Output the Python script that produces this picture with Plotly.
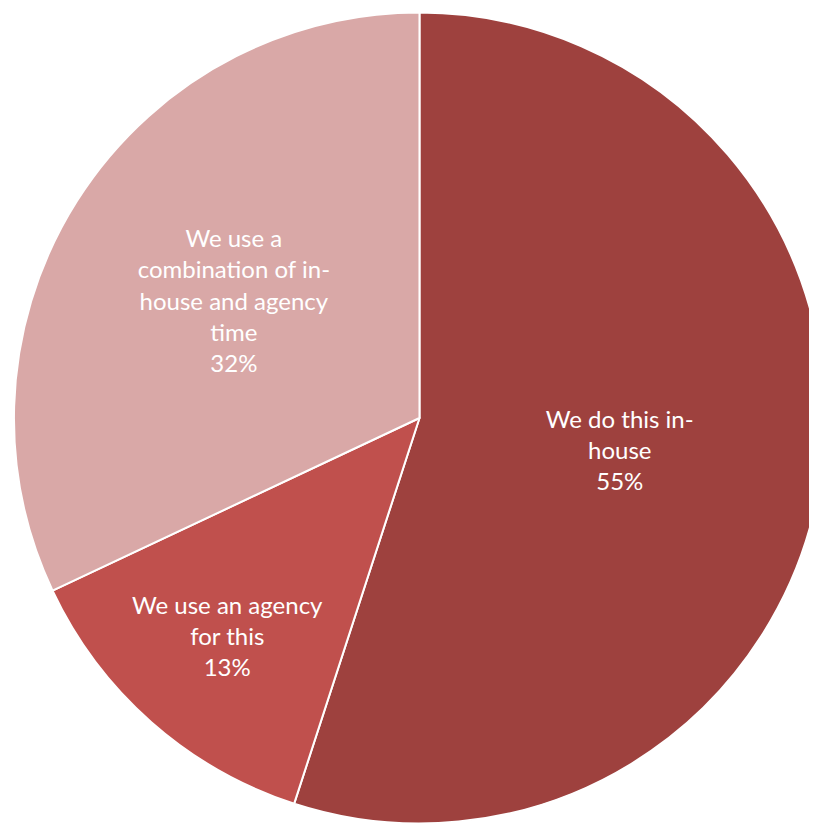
import plotly.graph_objects as go

labels = ["We do this in-house", "We use an agency for this",
          "We use a combination of in-house and agency time"]
label_text = ["We do this in-<br>house", "We use an agency<br>for this",
              "We use a<br>combination of in-<br>house and agency<br>time"]
values = [55, 13, 32]
colors = ["#9E413E", "#C0504D", "#D9A8A7"]

fig = go.Figure(go.Pie(
    labels=labels,
    values=values,
    text=label_text,
    texttemplate="%{text}<br>%{percent:.0%}",
    textposition="inside",
    insidetextorientation="horizontal",
    sort=False,
    direction="clockwise",
    rotation=0,
    marker=dict(colors=colors, line=dict(color="white", width=2)),
    textfont=dict(family="Lato, Open Sans, sans-serif", size=24, color="white"),
    domain=dict(x=[0.0073, 1.0], y=[0.0133, 0.9964]),
    hoverinfo="label+percent",
))

fig.update_layout(
    width=817, height=828,
    margin=dict(l=0, r=0, t=0, b=0),
    paper_bgcolor="white",
    showlegend=False,
)

fig.write_html("out.html")
